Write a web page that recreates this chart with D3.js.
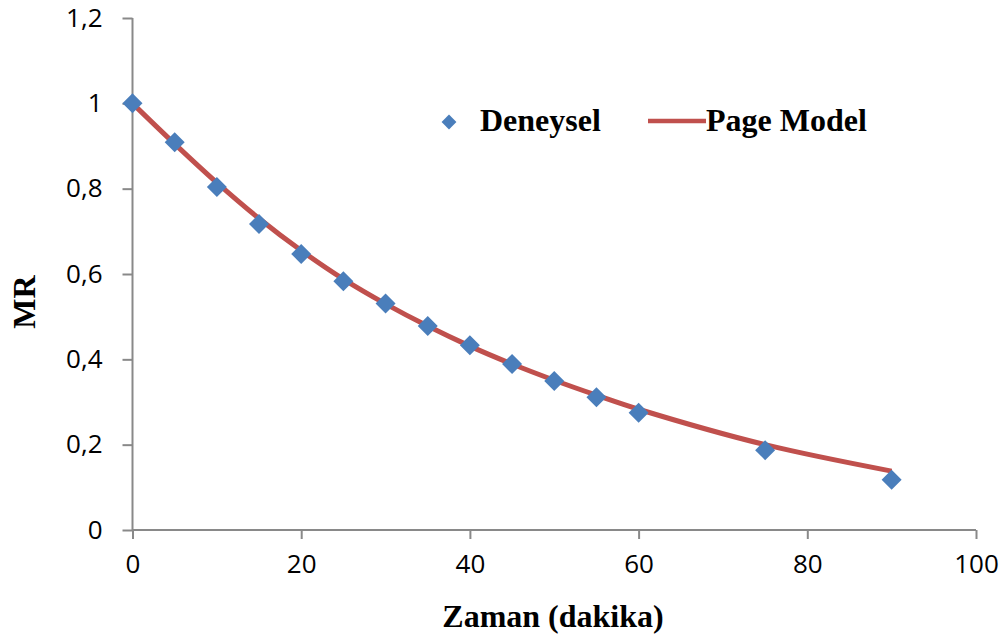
<!DOCTYPE html>
<html>
<head>
<meta charset="utf-8">
<script src="https://cdn.jsdelivr.net/npm/d3@7"></script>
<style>
  body { margin: 0; background: #fff; }
  .tick text { font-family: "Open Sans", sans-serif; font-size: 26px; fill: #000; }
  .ttl { font-family: "Liberation Serif", "Times New Roman", serif; font-weight: bold; font-size: 32px; fill: #000; }
</style>
</head>
<body>
<div id="chart"></div>
<script>
// time in minutes
var zaman = [0, 5, 10, 15, 20, 25, 30, 35, 40, 45, 50, 55, 60, 75, 90];
// experimental MR
var deneysel = [1.000, 0.909, 0.804, 0.717, 0.647, 0.583, 0.531, 0.478, 0.433, 0.389, 0.349, 0.311, 0.275, 0.187, 0.118];
// Page model MR at the same times
var pageModel = [1.000, 0.905, 0.814, 0.730, 0.655, 0.588, 0.530, 0.478, 0.431, 0.389, 0.351, 0.316, 0.283, 0.200, 0.138];

var xTicks = [0, 20, 40, 60, 80, 100];
var yTicks = [0, 0.2, 0.4, 0.6, 0.8, 1.0, 1.2];

var width = 1008, height = 642;
var margin = {left: 132.5, right: 32, top: 18, bottom: 112};

var svg = d3.select('#chart').append('svg')
            .attr('width', width)
            .attr('height', height);

var x = d3.scaleLinear().domain([0, 100]).range([margin.left, width - margin.right]);
var y = d3.scaleLinear().domain([0, 1.2]).range([height - margin.bottom, margin.top]);

var fmt = function(d){ return d3.format('.1~f')(d).replace('.', ','); };

//axes
var xAxis = svg.append('g')
               .attr('transform', 'translate(0,' + y(0) + ')')
               .call(d3.axisBottom(x).tickValues(xTicks).tickSize(9).tickPadding(16).tickFormat(d3.format('d')));

var yAxis = svg.append('g')
               .attr('transform', 'translate(' + x(0) + ',0)')
               .call(d3.axisLeft(y).tickValues(yTicks).tickSize(10).tickPadding(20).tickFormat(fmt));

svg.selectAll('.domain').attr('stroke', '#898989').attr('stroke-width', 2);
svg.selectAll('.tick line').attr('stroke', '#898989').attr('stroke-width', 2);
yAxis.select('.domain').attr('d', 'M0,' + y(1.2) + 'V' + y(0));
xAxis.select('.domain').attr('d', 'M' + x(0) + ',0H' + x(100));

//model line
var line = d3.line()
             .x(function(d, i){ return x(zaman[i]); })
             .y(function(d){ return y(d); })
             .curve(d3.curveCatmullRom);

svg.append('path')
   .datum(pageModel)
   .attr('d', line)
   .attr('fill', 'none')
   .attr('stroke', '#c0504d')
   .attr('stroke-width', 5);

//experimental markers
var diamond = d3.symbol().type(d3.symbolSquare).size(200);

svg.selectAll('.pt')
   .data(deneysel)
   .enter()
   .append('path')
     .attr('class', 'pt')
     .attr('d', diamond)
     .attr('transform', function(d, i){ return 'translate(' + x(zaman[i]) + ',' + y(d) + ') rotate(45)'; })
     .attr('fill', '#4a7ebb');

//legend
svg.append('path')
   .attr('d', d3.symbol().type(d3.symbolSquare).size(110))
   .attr('transform', 'translate(449,122) rotate(45)')
   .attr('fill', '#4a7ebb');
svg.append('text').attr('class', 'ttl').attr('x', 480).attr('y', 131).text('Deneysel');

svg.append('line')
   .attr('x1', 648).attr('x2', 706).attr('y1', 121).attr('y2', 121)
   .attr('stroke', '#c0504d').attr('stroke-width', 4.5);
svg.append('text').attr('class', 'ttl').attr('x', 706).attr('y', 131).text('Page Model');

//axis titles
svg.append('text').attr('class', 'ttl')
   .attr('text-anchor', 'middle')
   .attr('x', 553).attr('y', 627)
   .text('Zaman (dakika)');

svg.append('text').attr('class', 'ttl')
   .attr('text-anchor', 'middle')
   .attr('transform', 'translate(35,302) rotate(-90)')
   .text('MR');
</script>
</body>
</html>
